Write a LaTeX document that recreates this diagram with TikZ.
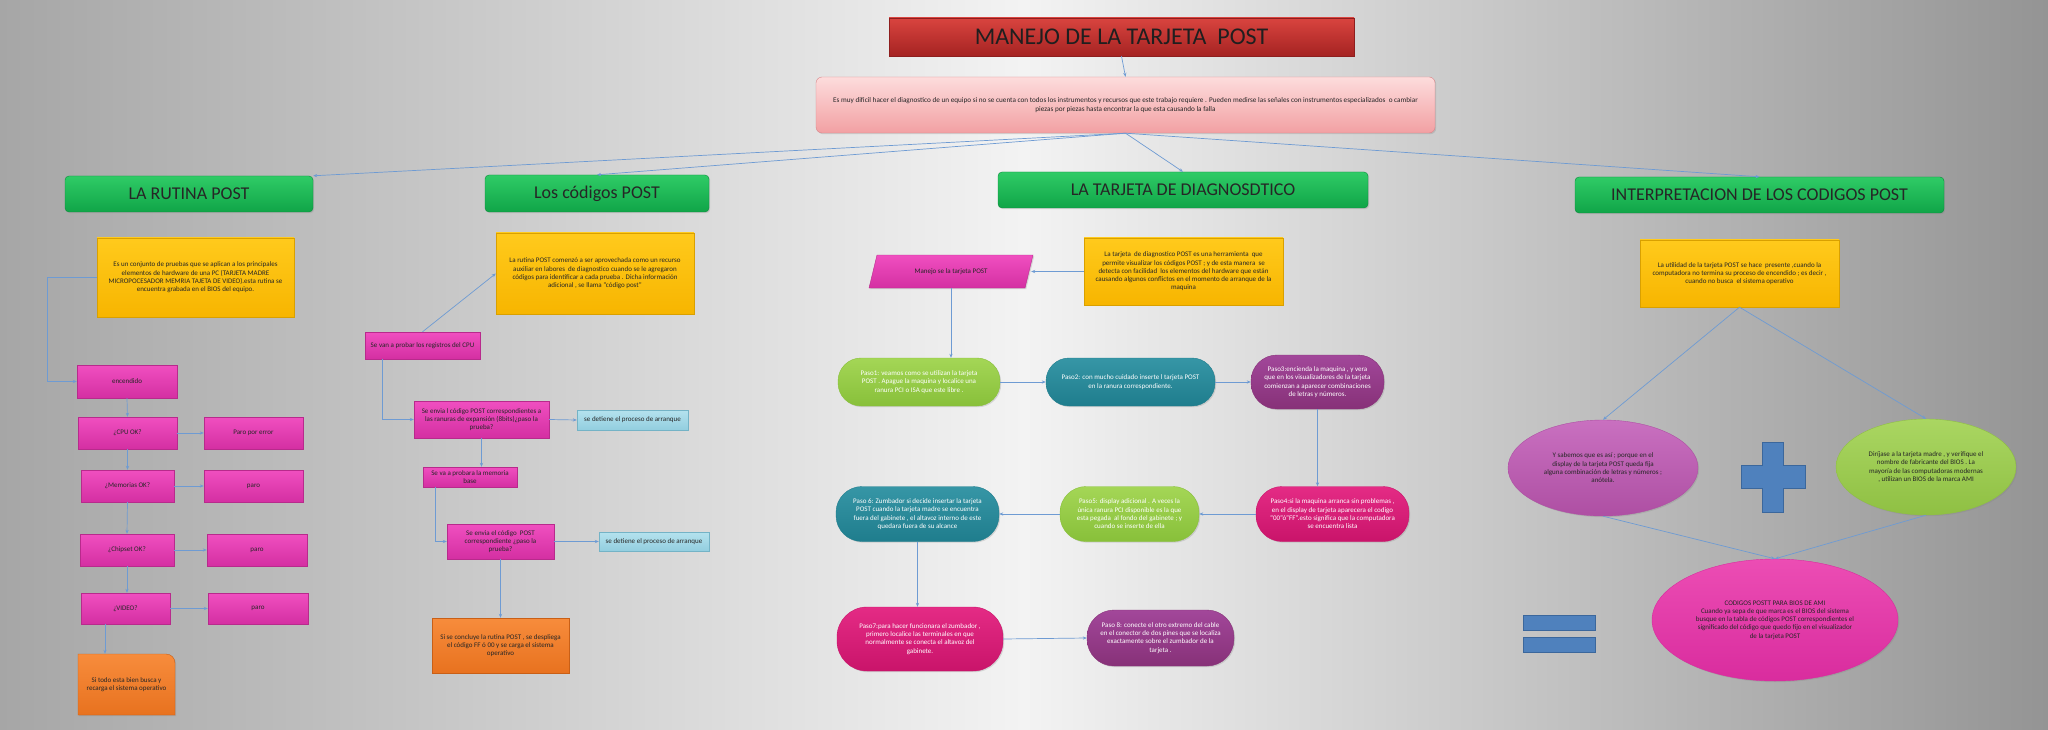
\documentclass[tikz,border=0pt]{standalone}
\usepackage{fontspec}
\setmainfont{Carlito}
\usetikzlibrary{arrows.meta,shapes.geometric,shadows,calc}
\definecolor{bgL}{HTML}{A6A6A6}
\definecolor{bgM}{HTML}{F3F3F3}
\definecolor{bgR}{HTML}{949494}
\definecolor{connc}{HTML}{6E9BD3}
\definecolor{redT}{HTML}{D9443F}
\definecolor{redB}{HTML}{A52322}
\definecolor{redD}{HTML}{8E1E1E}
\definecolor{piT}{HTML}{FDDCDC}
\definecolor{piB}{HTML}{F2A0A3}
\definecolor{piD}{HTML}{D8878B}
\definecolor{grT}{HTML}{2FCB66}
\definecolor{grB}{HTML}{10A548}
\definecolor{grD}{HTML}{0C8A3C}
\definecolor{yeT}{HTML}{FFCA1C}
\definecolor{yeB}{HTML}{F7B500}
\definecolor{yeD}{HTML}{D9A000}
\definecolor{mgT}{HTML}{F04FC0}
\definecolor{mgB}{HTML}{D42FA2}
\definecolor{mgD}{HTML}{B82A8C}
\definecolor{lbT}{HTML}{B5E2EE}
\definecolor{lbB}{HTML}{92CEDF}
\definecolor{lbD}{HTML}{74B3C6}
\definecolor{orT}{HTML}{F78C3C}
\definecolor{orB}{HTML}{E8721F}
\definecolor{orD}{HTML}{C95F16}
\definecolor{pgT}{HTML}{A4D656}
\definecolor{pgB}{HTML}{88C03A}
\definecolor{ptT}{HTML}{3696A6}
\definecolor{ptB}{HTML}{1F7D8D}
\definecolor{ppT}{HTML}{A2479A}
\definecolor{ppB}{HTML}{873178}
\definecolor{pcT}{HTML}{E42B85}
\definecolor{pcB}{HTML}{C9146A}
\definecolor{e1T}{HTML}{C970C0}
\definecolor{e1B}{HTML}{AE4FA3}
\definecolor{e2T}{HTML}{AAD662}
\definecolor{e2B}{HTML}{8FC043}
\definecolor{e3T}{HTML}{EC4DB4}
\definecolor{e3B}{HTML}{D92C9E}
\definecolor{blu}{HTML}{4F81BD}
\definecolor{bluD}{HTML}{3B679C}
\definecolor{txtd}{HTML}{262626}
\begin{document}
\begin{tikzpicture}[x=1pt,y=-1pt,
  conn/.style={draw=connc, line width=0.7pt, -{Stealth[length=4pt,width=3.2pt]}},
  sh/.style={drop shadow={opacity=0.25, shadow xshift=1.2pt, shadow yshift=-1.2pt}},
  box/.style={inner sep=0pt, align=center, font=\fontsize{7}{8.3}\selectfont, text=txtd},
  hdr/.style={box, sh, top color=grT, bottom color=grB, draw=grD, line width=0.4pt, rounded corners=4pt, font=\fontsize{18}{21}\selectfont, text=black!85},
  ybox/.style={box, sh, top color=yeT, bottom color=yeB, draw=yeD, line width=0.4pt},
  mbox/.style={box, sh, top color=mgT, bottom color=mgB, draw=mgD, line width=0.4pt},
  lbox/.style={box, sh, top color=lbT, bottom color=lbB, draw=lbD, line width=0.4pt},
  obox/.style={box, sh, top color=orT, bottom color=orB, draw=orD, line width=0.4pt},
  pill/.style={box, sh, text=white, line width=0.4pt},
  pgreen/.style={pill, top color=pgT, bottom color=pgB, draw=pgB},
  pteal/.style={pill, top color=ptT, bottom color=ptB, draw=ptB},
  ppurp/.style={pill, top color=ppT, bottom color=ppB, draw=ppB},
  pcrim/.style={pill, top color=pcT, bottom color=pcB, draw=pcB},
  ell/.style={box, sh, ellipse, line width=0.4pt}
]
\shade[left color=bgL, right color=bgR, middle color=bgM] (0,0) rectangle (2048,730);
\useasboundingbox (0,0) rectangle (2048,730);

% title and intro
\node[box, sh, top color=redT, bottom color=redB, draw=redD, line width=0.4pt, minimum width=465pt, minimum height=38pt, font=\fontsize{24}{28}\selectfont, text=black!88] (title) at (1121.5,37) {MANEJO DE LA TARJETA\ \ POST};
\node[box, sh, top color=piT, bottom color=piB, draw=piD, line width=0.4pt, rounded corners=6pt, minimum width=619pt, minimum height=56pt, font=\fontsize{7.2}{8.6}\selectfont] (intro) at (1125.5,105) {Es muy dificil hacer el diagnostico de un equipo si no se cuenta con todos los instrumentos y recursos que este trabajo requiere . Pueden medirse las señales con instrumentos especializados\ \ o cambiar\\piezas por piezas hasta encontrar la que esta causando la falla};

% headers
\node[hdr, minimum width=248pt, minimum height=36pt] (h1) at (189,194) {LA RUTINA POST};
\node[hdr, minimum width=224pt, minimum height=37pt] (h2) at (597,193.5) {Los códigos POST};
\node[hdr, minimum width=370pt, minimum height=36pt] (h3) at (1183,190) {LA TARJETA DE DIAGNOSDTICO};
\node[hdr, minimum width=369pt, minimum height=36pt] (h4) at (1759.5,195) {INTERPRETACION DE LOS CODIGOS POST};

\draw[conn] (title.south) -- (intro.north);
\draw[conn] (intro.south) -- (h1.north east);
\draw[conn] (intro.south) -- (h2.north);
\draw[conn] (intro.south) -- (h3.north);
\draw[conn] (intro.south) -- (h4.north);

% LA RUTINA POST
\node[ybox, minimum width=197pt, minimum height=79pt] (y1) at (195.5,277.5) {Es un conjunto de pruebas que se aplican a los principales\\elementos de hardware de una PC (TARJETA MADRE\\MICROPOCESADOR MEMRIA TAJETA DE VIDEO).esta rutina se\\encuentra grabada en el BIOS del equipo.};
\node[mbox, minimum width=100pt, minimum height=33pt] (enc) at (127,381.5) {encendido};
\node[mbox, minimum width=99pt, minimum height=32pt] (cpu) at (127.5,433) {¿CPU OK?};
\node[mbox, minimum width=99pt, minimum height=32pt] (paro1) at (253.5,433) {Paro por error};
\node[mbox, minimum width=93pt, minimum height=32pt] (mem) at (127.5,486) {¿Memorias OK?};
\node[mbox, minimum width=99pt, minimum height=32pt] (paro2) at (253.5,486) {paro};
\node[mbox, minimum width=94pt, minimum height=32pt] (chip) at (127,550) {¿Chipset OK?};
\node[mbox, minimum width=100pt, minimum height=32pt] (paro3) at (257,550) {paro};
\node[mbox, minimum width=89pt, minimum height=31pt] (vid) at (125.5,608.5) {¿VIDEO?};
\node[mbox, minimum width=100pt, minimum height=31pt] (paro4) at (258,608.5) {paro};
\path[sh, top color=orT, bottom color=orB, draw=orD, line width=0.4pt] (78,715) -- (78,654) [rounded corners=9pt] -- (175,654) [sharp corners] -- (175,715) -- cycle;
\node[box, minimum width=97pt, minimum height=61pt] (or1) at (126.5,684.5) {Si todo esta bien busca y\\recarga el sistema operativo};

\draw[conn] (y1.west) -- ++(-49,0) |- (enc.west);
\draw[conn] (enc.south) -- (cpu.north);
\draw[conn] (cpu.south) -- (mem.north);
\draw[conn] (mem.south) -- (chip.north);
\draw[conn] (chip.south) -- (chip.south |- vid.north);
\draw[conn] ([xshift=-20.5pt]vid.south) -- ([xshift=-20.5pt]vid.south |- or1.north);
\draw[conn] (cpu.east) -- (paro1.west);
\draw[conn] (mem.east) -- (paro2.west);
\draw[conn] (chip.east) -- (paro3.west);
\draw[conn] (vid.east) -- (paro4.west);

% Los codigos POST
\node[ybox, minimum width=198pt, minimum height=81pt] (y2) at (595,273.5) {La rutina POST comenzó a ser aprovechada como un recurso\\auxiliar en labores\ \ de diagnostico cuando se le agregaron\\códigos para identificar a cada prueba . Dicha información\\adicional , se llama “código post”};
\node[mbox, minimum width=115pt, minimum height=27pt] (sevan) at (422.5,345.5) {Se van a probar los registros del CPU};
\node[mbox, minimum width=135pt, minimum height=37pt] (env1) at (481.5,419.5) {Se envia l código POST correspondientes a\\las ranuras de expansión (8bits)¿paso la\\prueba?};
\node[lbox, minimum width=111pt, minimum height=20pt] (lb1) at (632.5,420) {se detiene el proceso de arranque};
\node[mbox, minimum width=94pt, minimum height=20pt] (seva) at (470,477) {Se va a probara la memoria\\base};
\node[mbox, minimum width=107pt, minimum height=35pt] (env2) at (500.5,541.5) {Se envia el código\ \ POST\\correspondiente ¿paso la\\prueba?};
\node[lbox, minimum width=110pt, minimum height=19pt] (lb2) at (654,541.5) {se detiene el proceso de arranque};
\node[obox, minimum width=137pt, minimum height=55pt] (or2) at (500.5,645.5) {Si se concluye la rutina POST , se despliega\\el código FF ó 00 y se carga el sistema\\operativo};

\draw[conn] (sevan.north) -- (y2.west);
\draw[conn] ([xshift=-40.5pt]sevan.south) |- (env1.west);
\draw[conn] (env1.east) -- (lb1.west);
\draw[conn] (env1.south) -- (env1.south |- seva.north);
\draw[conn] ([xshift=-35pt]seva.south) |- (env2.west);
\draw[conn] (env2.east) -- (lb2.west);
\draw[conn] (env2.south) -- (or2.north);

% LA TARJETA
\path[sh, top color=mgT, bottom color=mgB, draw=mgD, line width=0.4pt] (877,255) -- (1033,255) -- (1025,288) -- (869,288) -- cycle;
\node[box, minimum width=160pt, minimum height=33pt] (para) at (951,271.5) {Manejo se la tarjeta POST};
\node[ybox, minimum width=199pt, minimum height=67pt] (y3) at (1183.5,271.5) {La tarjeta\ \ de diagnostico POST es una herramienta\ \ que\\permite visualizar los códigos POST ; y de esta manera\ \ se\\detecta con facilidad\ \ los elementos del hardware que están\\causando algunos conflictos en el momento de arranque de la\\maquina};
\node[pgreen, minimum width=162pt, minimum height=48pt, rounded corners=23pt] (p1) at (919,382) {Paso1: veamos como se utilizan la tarjeta\\POST . Apague la maquina y localice una\\ranura PCI o ISA que este libre .};
\node[pteal, minimum width=169pt, minimum height=48pt, rounded corners=23pt] (p2) at (1130.5,382) {Paso2: con mucho cuidado inserte l tarjeta POST\\en la ranura correspondiente.};
\node[ppurp, minimum width=133pt, minimum height=54pt, rounded corners=26pt] (p3) at (1317.5,382) {Paso3:encienda la maquina , y vera\\que en los visualizadores de la tarjeta\\comienzan a aparecer combinaciones\\de letras y números.};
\node[pcrim, minimum width=153pt, minimum height=55pt, rounded corners=26pt] (p4) at (1332.5,514) {Paso4:si la maquina arranca sin problemas ,\\en el display de tarjeta aparecera el codigo\\“00”ó”FF”.esto significa que la computadora\\se encuentra lista};
\node[pgreen, minimum width=139pt, minimum height=55pt, rounded corners=26pt] (p5) at (1129.5,514) {Paso5: display adicional . A veces la\\única ranura PCI disponible es la que\\esta pegada\ \ al fondo del gabinete ; y\\cuando se inserte de ella};
\node[pteal, minimum width=163pt, minimum height=55pt, rounded corners=26pt] (p6) at (917.5,514) {Paso 6: Zumbador si decide insertar la tarjeta\\POST cuando la tarjeta madre se encuentra\\fuera del gabinete , el altavoz interno de este\\quedara fuera de su alcance};
\node[pcrim, minimum width=166pt, minimum height=64pt, rounded corners=30pt] (p7) at (920,639) {Paso7:para hacer funcionara el zumbador ,\\primero localice las terminales en que\\normalmente se conecta el altavoz del\\gabinete.};
\node[ppurp, minimum width=147pt, minimum height=56pt, rounded corners=27pt] (p8) at (1160.5,638) {Paso 8: conecte el otro extremo del cable\\en el conector de dos pines que se localiza\\exactamente sobre el zumbador de la\\tarjeta .};

\draw[conn] (y3.west) -- (para.east);
\draw[conn] (para.south) -- (para.south |- p1.north);
\draw[conn] (p1.east) -- (p2.west);
\draw[conn] (p2.east) -- (p3.west);
\draw[conn] (p3.south) -- (p3.south |- p4.north);
\draw[conn] (p4.west) -- (p5.east);
\draw[conn] (p5.west) -- (p6.east);
\draw[conn] (p6.south) -- (p6.south |- p7.north);
\draw[conn] (p7.east) -- (p8.west);

% INTERPRETACION
\node[ybox, minimum width=199pt, minimum height=67pt] (y4) at (1739.5,273.5) {La utilidad de la tarjeta POST se hace\ \ presente ,cuando la\\computadora no termina su proceso de encendido ; es decir ,\\cuando no busca\ \ el sistema operativo};
\node[ell, top color=e1T, bottom color=e1B, draw=e1B, minimum width=190pt, minimum height=96pt] (e1) at (1603,468) {Y sabemos que es así ; porque en el\\display de la tarjeta POST queda fija\\alguna combinación de letras y números ;\\anótela.};
\node[ell, top color=e2T, bottom color=e2B, draw=e2B, minimum width=180pt, minimum height=96pt] (e2) at (1926,467) {Diríjase a la tarjeta madre , y verifique el\\nombre de fabricante del BIOS . La\\mayoría de las computadoras modernas\\, utilizan un BIOS de la marca AMI};
\node[ell, top color=e3T, bottom color=e3B, draw=e3B, minimum width=246pt, minimum height=122pt] (e3) at (1775,620) {CODIGOS POSTT PARA BIOS DE AMI\\Cuando ya sepa de que marca es el BIOS del sistema\\busque en la tabla de códigos POST correspondientes el\\significado del código que quedo fijo en el visualizador\\de la tarjeta POST};

\draw[conn] (y4.south) -- (e1.north);
\draw[conn] (y4.south) -- (e2.north);
\draw[conn] (e1.south) -- (e3.north);
\draw[conn] (e2.south) -- (e3.north);

% plus and equals
\path[fill=blu, draw=bluD, line width=0.5pt] (1762,442) -- (1783,442) -- (1783,465) -- (1805,465) -- (1805,488) -- (1783,488) -- (1783,512) -- (1762,512) -- (1762,488) -- (1741,488) -- (1741,465) -- (1762,465) -- cycle;
\path[fill=blu, draw=bluD, line width=0.5pt] (1523,615) rectangle (1595,630);
\path[fill=blu, draw=bluD, line width=0.5pt] (1523,637) rectangle (1595,652);
\end{tikzpicture}
\end{document}
